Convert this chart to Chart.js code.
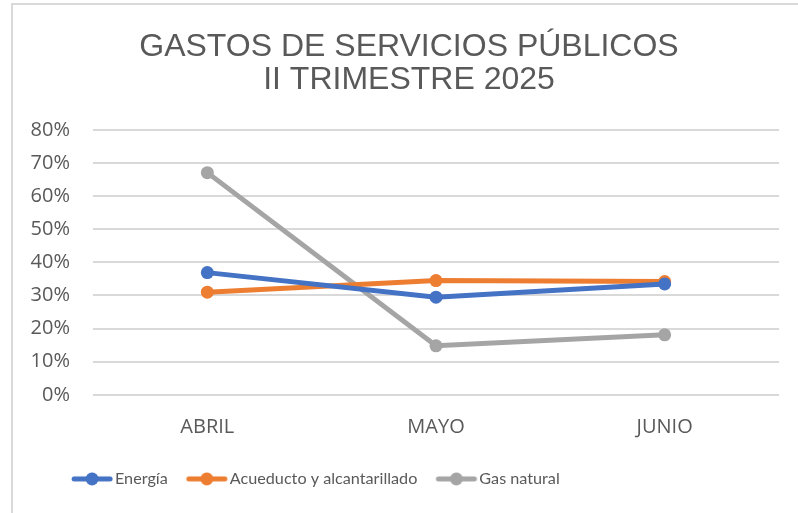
<!DOCTYPE html>
<html>
<head>
<meta charset="utf-8">
<script src="https://cdn.jsdelivr.net/npm/chart.js@4.4.1/dist/chart.umd.min.js"></script>
<style>
  html, body { margin: 0; padding: 0; background: #fff; }
  #wrap { width: 798px; height: 513px; position: relative; }
</style>
</head>
<body>
<div id="wrap"><canvas id="chart" width="798" height="513"></canvas></div>
<script>
// datos
const meses = ['ABRIL', 'MAYO', 'JUNIO'];
const energia = [0.369, 0.295, 0.335];
const acueducto = [0.310, 0.345, 0.342];
const gasNatural = [0.671, 0.148, 0.181];
const yTicks = ['0%', '10%', '20%', '30%', '40%', '50%', '60%', '70%', '80%'];

const colores = ['#4472C4', '#ED7D31', '#A5A5A5'];

const LEG_FONT = 16.2;
const LEG_BOX = 43 - LEG_FONT / 2; // ancho del simbolo en la leyenda

// icono de leyenda: linea con punto en el medio
function iconoLeyenda(color) {
  const c = document.createElement('canvas');
  c.width = Math.round(LEG_BOX + LEG_FONT);
  c.height = 14;
  const g = c.getContext('2d');
  const x0 = LEG_FONT / 2, x1 = x0 + 40;
  g.strokeStyle = color;
  g.lineWidth = 5;
  g.lineCap = 'round';
  g.beginPath(); g.moveTo(x0 + 2, 7); g.lineTo(x1 - 2, 7); g.stroke();
  g.fillStyle = color;
  g.beginPath(); g.arc((x0 + x1) / 2, 7, 6.5, 0, Math.PI * 2); g.fill();
  return c;
}

// borde gris del area del grafico (solo izquierda y arriba se ven)
const bordePlugin = {
  id: 'borde',
  afterLayout(chart) {
    // la leyenda del original no esta centrada
    if (chart.legend) {
      chart.legend.left = 53;
      chart.legend.top -= 7;
    }
    // titulo un poco a la derecha
    if (chart.titleBlock) {
      chart.titleBlock.left += 5;
      chart.titleBlock.right += 5;
    }
  },
  beforeDraw(chart) {
    const ctx = chart.ctx;
    ctx.save();
    ctx.strokeStyle = '#D9D9D9';
    ctx.lineWidth = 2;
    ctx.beginPath();
    ctx.moveTo(12, 520);
    ctx.lineTo(12, 4);
    ctx.lineTo(810, 4);
    ctx.stroke();
    ctx.restore();
  }
};

function serie(label, data, color) {
  return {
    label: label,
    data: data,
    borderColor: color,
    backgroundColor: color,
    borderWidth: 5,
    pointRadius: 6.5,
    pointHoverRadius: 6.5,
    pointBackgroundColor: color,
    pointBorderWidth: 0,
    tension: 0,
    fill: false
  };
}

new Chart(document.getElementById('chart').getContext('2d'), {
  type: 'line',
  data: {
    labels: meses,
    datasets: [
      serie('Energía', energia, colores[0]),
      serie('Acueducto y alcantarillado', acueducto, colores[1]),
      serie('Gas natural', gasNatural, colores[2])
    ]
  },
  options: {
    responsive: false,
    animation: false,
    layout: { padding: { left: 29, right: 19, top: 13, bottom: 9 } },
    plugins: {
      tooltip: { enabled: false },
      title: {
        display: true,
        text: ['GASTOS DE SERVICIOS PÚBLICOS', 'II TRIMESTRE 2025'],
        color: '#595959',
        font: { family: '"Liberation Sans", Arial, sans-serif', size: 32, weight: 'normal', lineHeight: 1.03 },
        padding: { top: 18, bottom: 33 }
      },
      legend: {
        position: 'bottom',
        align: 'start',
        labels: {
          usePointStyle: true,
          pointStyleWidth: LEG_BOX,
          color: '#595959',
          font: { family: 'Lato, sans-serif', size: LEG_FONT },
          padding: 19,
          generateLabels(chart) {
            return chart.data.datasets.map((ds, i) => ({
              text: ds.label,
              fillStyle: colores[i],
              strokeStyle: colores[i],
              lineWidth: 0,
              pointStyle: iconoLeyenda(colores[i]),
              hidden: false,
              datasetIndex: i,
              fontColor: '#595959'
            }));
          }
        }
      }
    },
    scales: {
      x: {
        offset: true,
        grid: { display: false, drawTicks: false },
        border: { display: false },
        ticks: {
          color: '#595959',
          font: { family: '"Open Sans", sans-serif', size: 20 },
          padding: 20
        }
      },
      y: {
        min: 0,
        max: 0.8,
        afterFit(scale) { scale.width = 64; },
        grid: { color: '#D9D9D9', lineWidth: 2, drawTicks: false },
        border: { display: false },
        ticks: {
          stepSize: 0.1,
          color: '#595959',
          font: { family: '"Open Sans", sans-serif', size: 20 },
          padding: 23,
          callback: (v, i) => yTicks[i]
        }
      }
    }
  },
  plugins: [bordePlugin]
});
</script>
</body>
</html>
